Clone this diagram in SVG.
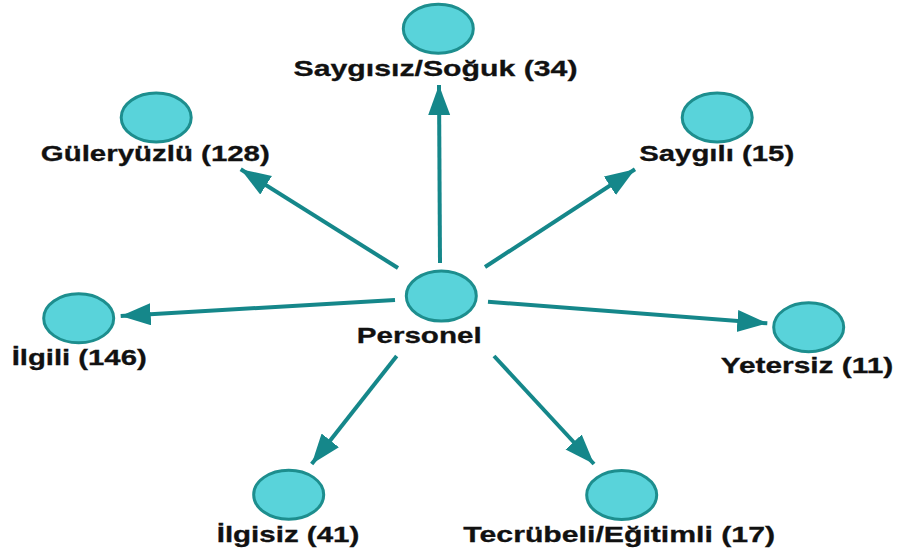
<svg xmlns="http://www.w3.org/2000/svg" width="901" height="553" viewBox="0 0 901 553">
<style>
.node ellipse{fill:#59D3DA;stroke:#1D8E8E;stroke-width:3}
.node text{font-family:"Liberation Sans",Arial,Helvetica,sans-serif;font-weight:bold;font-size:22px;fill:#111;stroke:#111;stroke-width:0.3;text-anchor:middle}
.edge{stroke:#15878A;stroke-width:4;fill:none;marker-end:url(#ah)}
</style>
<defs>
<marker id="ah" markerUnits="userSpaceOnUse" markerWidth="32" markerHeight="24" refX="30" refY="11" orient="auto" viewBox="0 0 32 24">
<path d="M0,0 L30,11 L0,22 Z" fill="#15878A"/>
</marker>
</defs>
<rect width="901" height="553" fill="#fff"/>
<g id="connectors">
<line class="edge" x1="398" y1="268" x2="240.7" y2="169.3"/>
<line class="edge" x1="440" y1="263" x2="439" y2="85"/>
<line class="edge" x1="485" y1="267" x2="635" y2="169.3"/>
<line class="edge" x1="395" y1="300" x2="120.7" y2="316"/>
<line class="edge" x1="488" y1="301.7" x2="767.3" y2="323.3"/>
<line class="edge" x1="396.7" y1="356" x2="311.7" y2="464"/>
<line class="edge" x1="494" y1="356" x2="594" y2="464"/>
</g>
<g id="personel" class="node">
<ellipse cx="441.3" cy="296" rx="35" ry="25"/>
<text x="419.2" y="343" textLength="125" lengthAdjust="spacingAndGlyphs">Personel</text>
</g>
<g id="saygisiz" class="node">
<ellipse cx="438.3" cy="28.7" rx="35" ry="24.5"/>
<text x="435.5" y="76" textLength="284" lengthAdjust="spacingAndGlyphs">Saygısız/Soğuk (34)</text>
</g>
<g id="guleryuzlu" class="node">
<ellipse cx="156.2" cy="117.5" rx="35" ry="24.5"/>
<text x="155.3" y="161" textLength="229" lengthAdjust="spacingAndGlyphs">Güleryüzlü (128)</text>
</g>
<g id="saygili" class="node">
<ellipse cx="717.2" cy="117.5" rx="35" ry="24.5"/>
<text x="716.7" y="161" textLength="155" lengthAdjust="spacingAndGlyphs">Saygılı (15)</text>
</g>
<g id="ilgili" class="node">
<ellipse cx="78.7" cy="318.3" rx="35" ry="24.5"/>
<text x="79.2" y="365" textLength="135" lengthAdjust="spacingAndGlyphs">İlgili (146)</text>
</g>
<g id="yetersiz" class="node">
<ellipse cx="808.7" cy="327.2" rx="35" ry="24.5"/>
<text x="807" y="373.3" textLength="172.6" lengthAdjust="spacingAndGlyphs">Yetersiz (11)</text>
</g>
<g id="ilgisiz" class="node">
<ellipse cx="288.7" cy="494.7" rx="35" ry="24.5"/>
<text x="288" y="541.7" textLength="142.6" lengthAdjust="spacingAndGlyphs">İlgisiz (41)</text>
</g>
<g id="tecrubeli" class="node">
<ellipse cx="621.7" cy="495" rx="35" ry="24.5"/>
<text x="619.2" y="541.7" textLength="311.7" lengthAdjust="spacingAndGlyphs">Tecrübeli/Eğitimli (17)</text>
</g>
</svg>
